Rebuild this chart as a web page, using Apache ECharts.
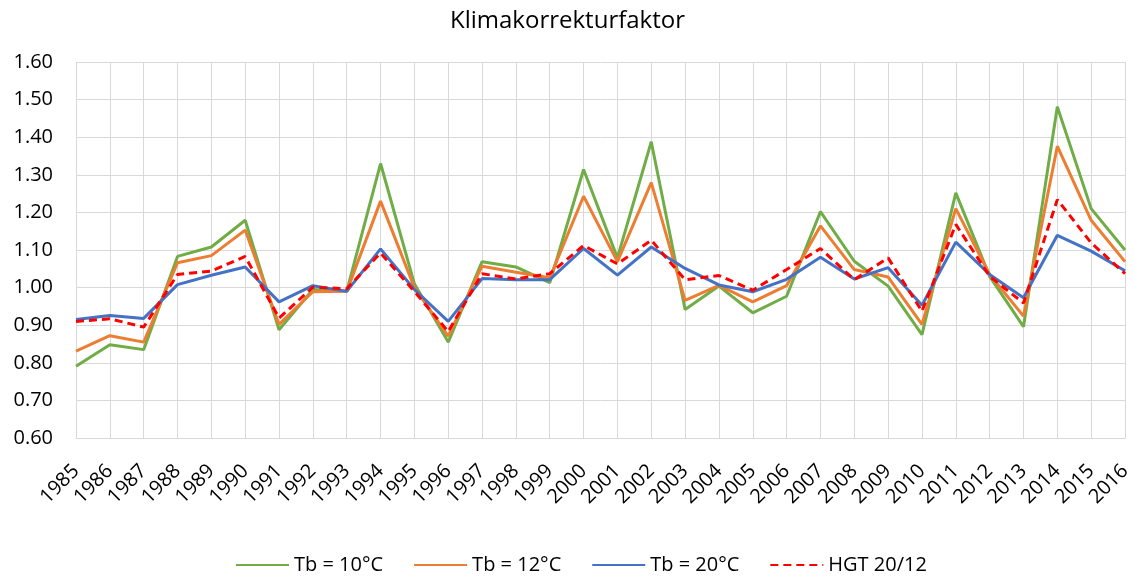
<!DOCTYPE html>
<html>
<head>
<meta charset="utf-8">
<title>Klimakorrekturfaktor</title>
<script src="https://cdn.jsdelivr.net/npm/echarts@6/dist/echarts.min.js"></script>
<style>
  html, body { margin: 0; padding: 0; background: #fff; }
  #chart { width: 1135px; height: 577px; }
</style>
</head>
<body>
<div id="chart"></div>
<script>
  // Jahre
  const years = ['1985','1986','1987','1988','1989','1990','1991','1992','1993','1994','1995','1996',
    '1997','1998','1999','2000','2001','2002','2003','2004','2005','2006','2007','2008','2009','2010',
    '2011','2012','2013','2014','2015','2016'];

  // Werte
  const tb10 = [0.791, 0.848, 0.835, 1.083, 1.108, 1.179, 0.888, 0.995, 0.990, 1.330, 1.010, 0.855,
    1.069, 1.055, 1.013, 1.314, 1.079, 1.388, 0.942, 1.004, 0.933, 0.977, 1.202, 1.070, 1.004, 0.875,
    1.252, 1.030, 0.896, 1.481, 1.210, 1.100];
  const tb12 = [0.831, 0.872, 0.855, 1.066, 1.085, 1.153, 0.902, 0.989, 0.990, 1.230, 1.000, 0.871,
    1.057, 1.041, 1.026, 1.243, 1.069, 1.279, 0.966, 1.006, 0.962, 1.005, 1.164, 1.048, 1.028, 0.902,
    1.210, 1.035, 0.924, 1.376, 1.179, 1.069];
  const tb20 = [0.915, 0.926, 0.918, 1.008, 1.033, 1.055, 0.962, 1.005, 0.990, 1.103, 0.995, 0.910,
    1.024, 1.021, 1.021, 1.104, 1.033, 1.108, 1.051, 1.007, 0.989, 1.022, 1.081, 1.023, 1.053, 0.953,
    1.121, 1.035, 0.973, 1.139, 1.097, 1.045];
  const hgt = [0.910, 0.917, 0.895, 1.035, 1.044, 1.083, 0.919, 1.001, 0.997, 1.092, 0.990, 0.883,
    1.037, 1.023, 1.037, 1.112, 1.063, 1.126, 1.021, 1.032, 0.993, 1.048, 1.104, 1.021, 1.079, 0.937,
    1.168, 1.030, 0.959, 1.234, 1.119, 1.037];

  const font = '"Open Sans", sans-serif';
  let myChart = echarts.init(document.getElementById('chart'));
  let option = {
    animation: false,
    textStyle: { fontFamily: font },
    title: {
      text: 'Klimakorrekturfaktor',
      left: 'center',
      top: 4,
      textStyle: { fontFamily: font, fontSize: 24, fontWeight: 'normal', color: '#000' }
    },
    legend: {
      top: 550,
      left: 230,
      itemWidth: 53,
      itemHeight: 4,
      itemGap: 30,
      itemStyle: { opacity: 0 },
      textStyle: { fontFamily: font, fontSize: 20, color: '#000' },
      data: ['Tb = 10°C', 'Tb = 12°C', 'Tb = 20°C', 'HGT 20/12']
    },
    grid: { left: 76, right: 10, top: 62, bottom: 139 },
    xAxis: {
      type: 'category',
      boundaryGap: false,
      data: years,
      axisLine: { lineStyle: { color: '#D9D9D9', width: 1 } },
      axisTick: { show: false },
      axisLabel: { rotate: 45, interval: 0, margin: 30, fontFamily: font, fontSize: 20, color: '#000' },
      splitLine: { show: true, lineStyle: { color: '#D9D9D9', width: 1 } }
    },
    yAxis: {
      type: 'value',
      min: 0.6,
      max: 1.6,
      interval: 0.1,
      axisLine: { show: false },
      axisTick: { show: false },
      axisLabel: { margin: 23, fontFamily: font, fontSize: 20, color: '#000',
        formatter: v => v.toFixed(2) },
      splitLine: { lineStyle: { color: '#D9D9D9', width: 1 } }
    },
    series: [
      { name: 'Tb = 10°C', type: 'line', data: tb10, symbol: 'none',
        lineStyle: { color: '#70AD47', width: 3 }, itemStyle: { color: '#70AD47' } },
      { name: 'Tb = 12°C', type: 'line', data: tb12, symbol: 'none',
        lineStyle: { color: '#ED7D31', width: 3 }, itemStyle: { color: '#ED7D31' } },
      { name: 'Tb = 20°C', type: 'line', data: tb20, symbol: 'none',
        lineStyle: { color: '#4472C4', width: 3 }, itemStyle: { color: '#4472C4' } },
      { name: 'HGT 20/12', type: 'line', data: hgt, symbol: 'none',
        lineStyle: { color: '#FF0000', width: 3, type: [8, 5] }, itemStyle: { color: '#FF0000' } }
    ]
  };
  myChart.setOption(option);
</script>
</body>
</html>
